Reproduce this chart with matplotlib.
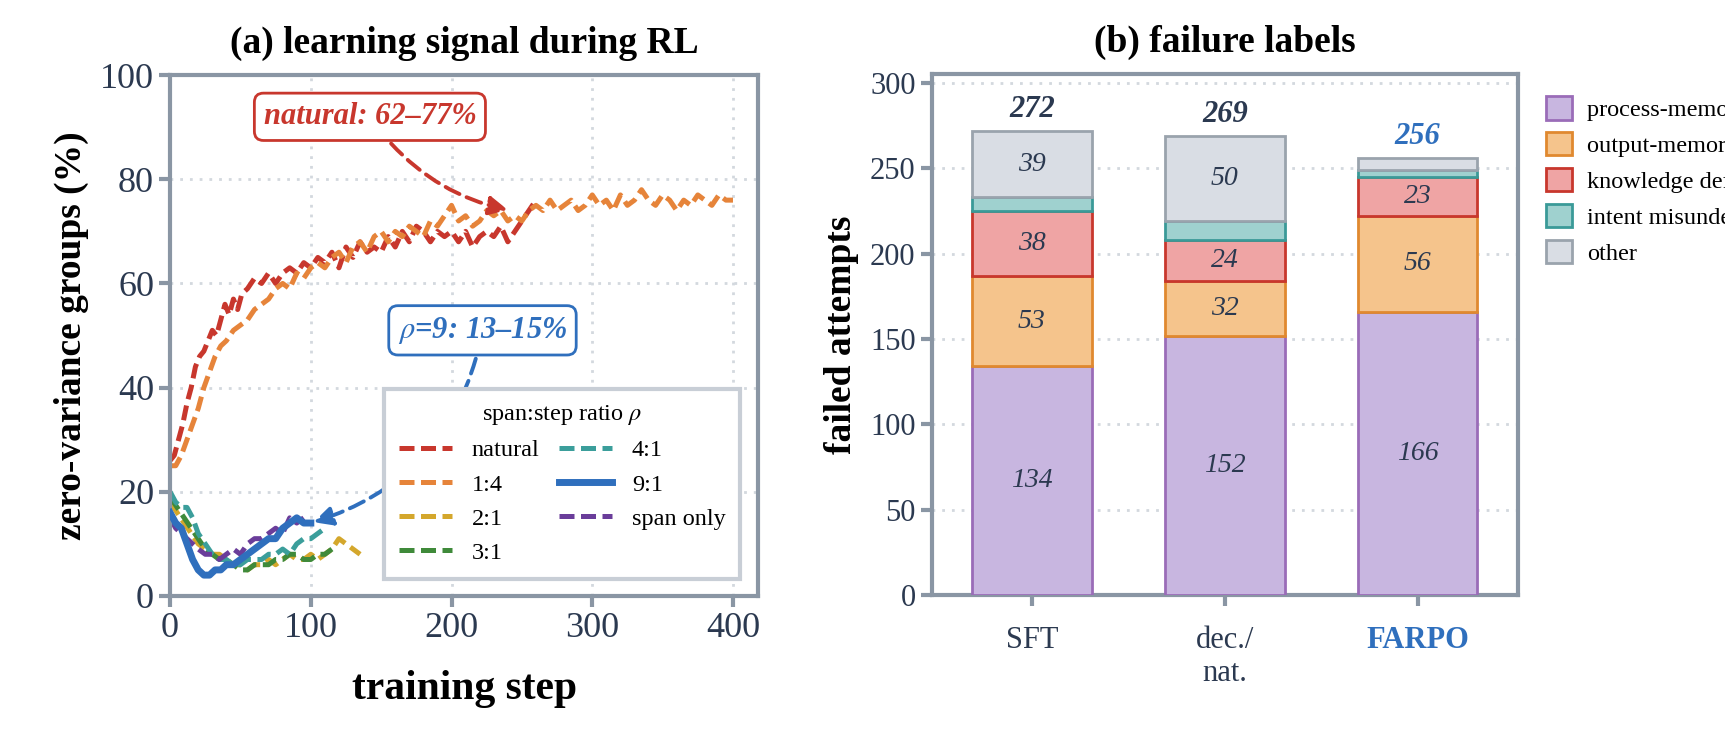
import numpy as np
import matplotlib
matplotlib.use("Agg")
import matplotlib.pyplot as plt
from matplotlib.patches import Patch

plt.rcParams["font.family"] = ["Liberation Serif", "DejaVu Serif"]
plt.rcParams["mathtext.fontset"] = "stix"

INK = "#2b3950"
SPINE = "#8a96a4"
GRID = "#d3d8de"

# -----------------------------
# (a) zero-variance curves
# -----------------------------
nat_x = [0, 3, 6, 9, 12, 15, 18, 21, 24, 27, 30, 33, 36, 39, 42, 45, 48, 51, 55, 60, 65, 70, 75,
         80, 85, 90, 95, 100, 105, 110, 115, 120, 125, 130, 135, 140, 145, 150, 155, 160, 165, 170,
         175, 180, 185, 190, 195, 200, 205, 210, 215, 220, 225, 230, 235, 240, 245, 250, 255, 260]
nat_y = [26, 27, 30, 33, 37, 40, 44, 46, 47, 49, 51, 50, 53, 56, 54, 57, 55, 58, 59, 61, 60, 62, 60,
         62, 63, 62, 64, 63, 65, 64, 66, 63, 67, 65, 68, 66, 67, 66, 69, 67, 70, 68,
         71, 70, 68, 70, 69, 70, 68, 70, 67, 69, 70, 69, 71, 68, 70, 72, 74, 76]
r14_x = [0, 4, 8, 12, 16, 20, 24, 28, 32, 36, 40, 45, 50, 55, 60, 65, 70, 75, 80, 85, 90, 95, 100,
         105, 110, 115, 120, 125, 130, 135, 140, 145, 150, 155, 160, 165, 170, 175, 180, 185, 190,
         195, 200, 205, 210, 215, 220, 225, 230, 235, 240, 245, 250, 255, 260, 265, 270, 275, 280,
         285, 290, 295, 300, 305, 310, 315, 320, 325, 330, 335, 340, 345, 350, 355, 360, 365, 370,
         375, 380, 385, 390, 395, 400]
r14_y = [25, 25, 27, 30, 33, 36, 40, 43, 46, 48, 49, 51, 52, 53, 55, 56, 57, 59, 60, 59, 62, 61, 63,
         64, 63, 65, 66, 64, 67, 68, 66, 69, 70, 68, 70, 69, 71, 70, 69, 72, 71,
         73, 75, 72, 73, 71, 72, 74, 73, 74, 72, 73, 72, 74, 75, 74, 76, 74, 75,
         76, 74, 75, 77, 75, 76, 74, 77, 75, 76, 78, 76, 75, 77, 76, 74, 76, 75,
         77, 76, 75, 77, 76, 76]
r21_x = [0, 5, 10, 15, 20, 25, 30, 35, 40, 45, 50, 55, 60, 65, 70, 75, 80, 85, 90, 95, 100, 105,
         110, 115, 120, 125, 130, 135]
r21_y = [18, 16, 14, 12, 10, 9, 8, 8, 7, 6, 6, 5, 6, 6, 7, 6, 7, 8, 7, 7, 8, 7, 8, 9, 11, 10, 9, 8]
r31_x = [0, 5, 10, 15, 20, 25, 30, 35, 40, 45, 50, 55, 60, 65, 70, 75, 80, 85, 90, 95, 100, 105,
         110, 115]
r31_y = [19, 17, 15, 13, 11, 9, 8, 7, 6, 6, 5, 5, 6, 6, 6, 7, 7, 8, 8, 7, 7, 8, 8, 9]
r41_x = [0, 4, 8, 12, 16, 20, 25, 30, 35, 40, 45, 50, 55, 60, 65, 70, 75, 80, 85, 90, 95, 100, 105, 110]
r41_y = [20, 18, 17, 17, 15, 12, 10, 8, 7, 7, 6, 6, 7, 7, 7, 8, 8, 9, 8, 10, 11, 11, 12, 13]
r91_x = [0, 4, 8, 12, 16, 20, 24, 28, 32, 36, 40, 45, 50, 55, 60, 65, 70, 75, 80, 85, 90, 95, 100]
r91_y = [16, 14, 13, 10, 7, 5, 4, 4, 5, 5, 6, 6, 7, 8, 9, 10, 11, 11, 13, 14, 15, 14, 14]
span_x = [0, 4, 8, 12, 16, 20, 25, 30, 35, 40, 45, 50, 55, 60, 65, 70, 75, 80, 85, 90, 95]
span_y = [15, 13, 12, 11, 10, 9, 8, 8, 7, 8, 9, 8, 10, 11, 11, 12, 13, 12, 15, 14, 15]

# -----------------------------
# (b) failure labels
# -----------------------------
methods = ["SFT", "dec./\nnat.", "FARPO"]
categories = ["process-memory halluc.", "output-memory halluc.", "knowledge deficiency",
              "intent misunderstanding", "other"]
process_mem = [134, 152, 166]
output_mem = [53, 32, 56]
knowledge = [38, 24, 23]
intent = [8, 11, 4]
other = [39, 50, 7]
totals = [272, 269, 256]

fig = plt.figure(figsize=(17.25, 7.44), dpi=100)
ax = fig.add_axes([0.0986, 0.199, 0.341, 0.70])
axb = fig.add_axes([0.540, 0.20, 0.340, 0.70])

series = [
    (nat_x, nat_y, "natural", "#c8372d", "--", 3.6),
    (r14_x, r14_y, "1:4", "#e6843a", "--", 3.6),
    (r21_x, r21_y, "2:1", "#d4a72c", "--", 3.6),
    (r31_x, r31_y, "3:1", "#3f8a3a", "--", 3.6),
    (r41_x, r41_y, "4:1", "#3b9e9b", "--", 3.6),
    (r91_x, r91_y, "9:1", "#2f6fbd", "-", 5),
    (span_x, span_y, "span only", "#6a3d9a", "--", 3.6),
]
for xs, ys, lab, col, ls, lw in series:
    if ls == "--":
        ax.plot(xs, ys, color=col, lw=lw, ls=(0, (3, 1.3)), label=lab)
    else:
        ax.plot(xs, ys, color=col, lw=lw, ls=ls, label=lab, zorder=5)

ax.set_xlim(0, 418)
ax.set_ylim(0, 100)
ax.set_xticks([0, 100, 200, 300, 400])
ax.set_yticks([0, 20, 40, 60, 80, 100])
ax.grid(True, color=GRID, ls=(0, (1, 2.5)), lw=2)
ax.set_axisbelow(True)
ax.set_title("(a) learning signal during RL", fontsize=27, fontweight="bold", pad=16)
ax.set_xlabel("training step", fontsize=30, fontweight="bold", labelpad=18)
ax.set_ylabel("zero-variance groups (%)", fontsize=27, fontweight="bold", labelpad=8)

ax.annotate("natural: 62–77%", xy=(242, 74), xytext=(142, 92),
            fontsize=22, fontweight="bold", style="italic", color="#c8372d", ha="center", va="center",
            bbox=dict(boxstyle="round,pad=0.3", fc="white", ec="#c8372d", lw=2),
            arrowprops=dict(arrowstyle="-|>", color="#c8372d", lw=2.8, ls=(0, (4, 2)),
                            connectionstyle="arc3,rad=0.2", mutation_scale=28))
ax.annotate(r"$\rho$=9: 13–15%", xy=(100, 14), xytext=(222, 51),
            fontsize=22, fontweight="bold", style="italic", color="#2f6fbd", ha="center", va="center",
            bbox=dict(boxstyle="round,pad=0.3", fc="white", ec="#2f6fbd", lw=2),
            arrowprops=dict(arrowstyle="-|>", color="#2f6fbd", lw=2.8, ls=(0, (4, 2)),
                            connectionstyle="arc3,rad=-0.3", mutation_scale=28))

leg = ax.legend(title=r"span:step ratio $\rho$", ncol=2, loc="lower right", fontsize=17.5,
                title_fontsize=17.5, frameon=True, fancybox=False, handlelength=2.2,
                columnspacing=0.8, borderpad=0.6, bbox_to_anchor=(0.99, 0.01))
leg.get_frame().set_edgecolor("#c8ced6")
leg.get_frame().set_linewidth(3)
leg.get_frame().set_alpha(1)

# -----------------------------
# (b) stacked bars
# -----------------------------
faces = ["#c8b6e0", "#f5c48c", "#efa4a4", "#9fd1cf", "#d9dde4"]
edges = ["#9a6cb8", "#e0892f", "#c8372d", "#3a9a98", "#9aa3ad"]
layers = [process_mem, output_mem, knowledge, intent, other]
xpos = np.arange(len(methods))
bottom = np.zeros(len(methods))
for vals, fc, ec, lab in zip(layers, faces, edges, categories):
    axb.bar(xpos, vals, width=0.62, bottom=bottom, color=fc, edgecolor=ec, lw=2, label=lab, zorder=3)
    for i, v in enumerate(vals):
        if v >= 15:
            axb.text(xpos[i], bottom[i] + v / 2, str(v), ha="center", va="center",
                     fontsize=20, style="italic", color=INK, zorder=4)
    bottom += np.array(vals)
for i, t in enumerate(totals):
    axb.text(xpos[i], max(t, bottom[i]) + 4, str(t), ha="center", va="bottom", fontsize=22,
             fontweight="bold", style="italic", color="#2f6fbd" if i == 2 else INK)

axb.set_xlim(-0.52, 2.52)
axb.set_ylim(0, 305)
axb.set_xticks(xpos)
axb.set_xticklabels(methods)
axb.set_yticks([0, 50, 100, 150, 200, 250, 300])
axb.grid(True, axis="y", color=GRID, ls=(0, (1, 2.5)), lw=2)
axb.set_axisbelow(True)
axb.set_title("(b) failure labels", fontsize=27, fontweight="bold", pad=16)
axb.set_ylabel("failed attempts", fontsize=27, fontweight="bold", labelpad=8)

handles = [Patch(facecolor=fc, edgecolor=ec, lw=2) for fc, ec in zip(faces, edges)]
axb.legend(handles, categories, loc="upper left", bbox_to_anchor=(1.01, 1.0), fontsize=17.5,
           frameon=False, handlelength=1.1, handleheight=1.1, handletextpad=0.6, labelspacing=0.45)

for a, fs in ((ax, 26), (axb, 22)):
    for s in a.spines.values():
        s.set_color(SPINE)
        s.set_linewidth(3)
    a.tick_params(colors=SPINE, labelcolor=INK, labelsize=fs, width=3, length=8)
axb.tick_params(axis="x", pad=14)
axb.get_xticklabels()[2].set_color("#2f6fbd")
axb.get_xticklabels()[2].set_fontweight("bold")

fig.savefig("out.png", dpi=100)
